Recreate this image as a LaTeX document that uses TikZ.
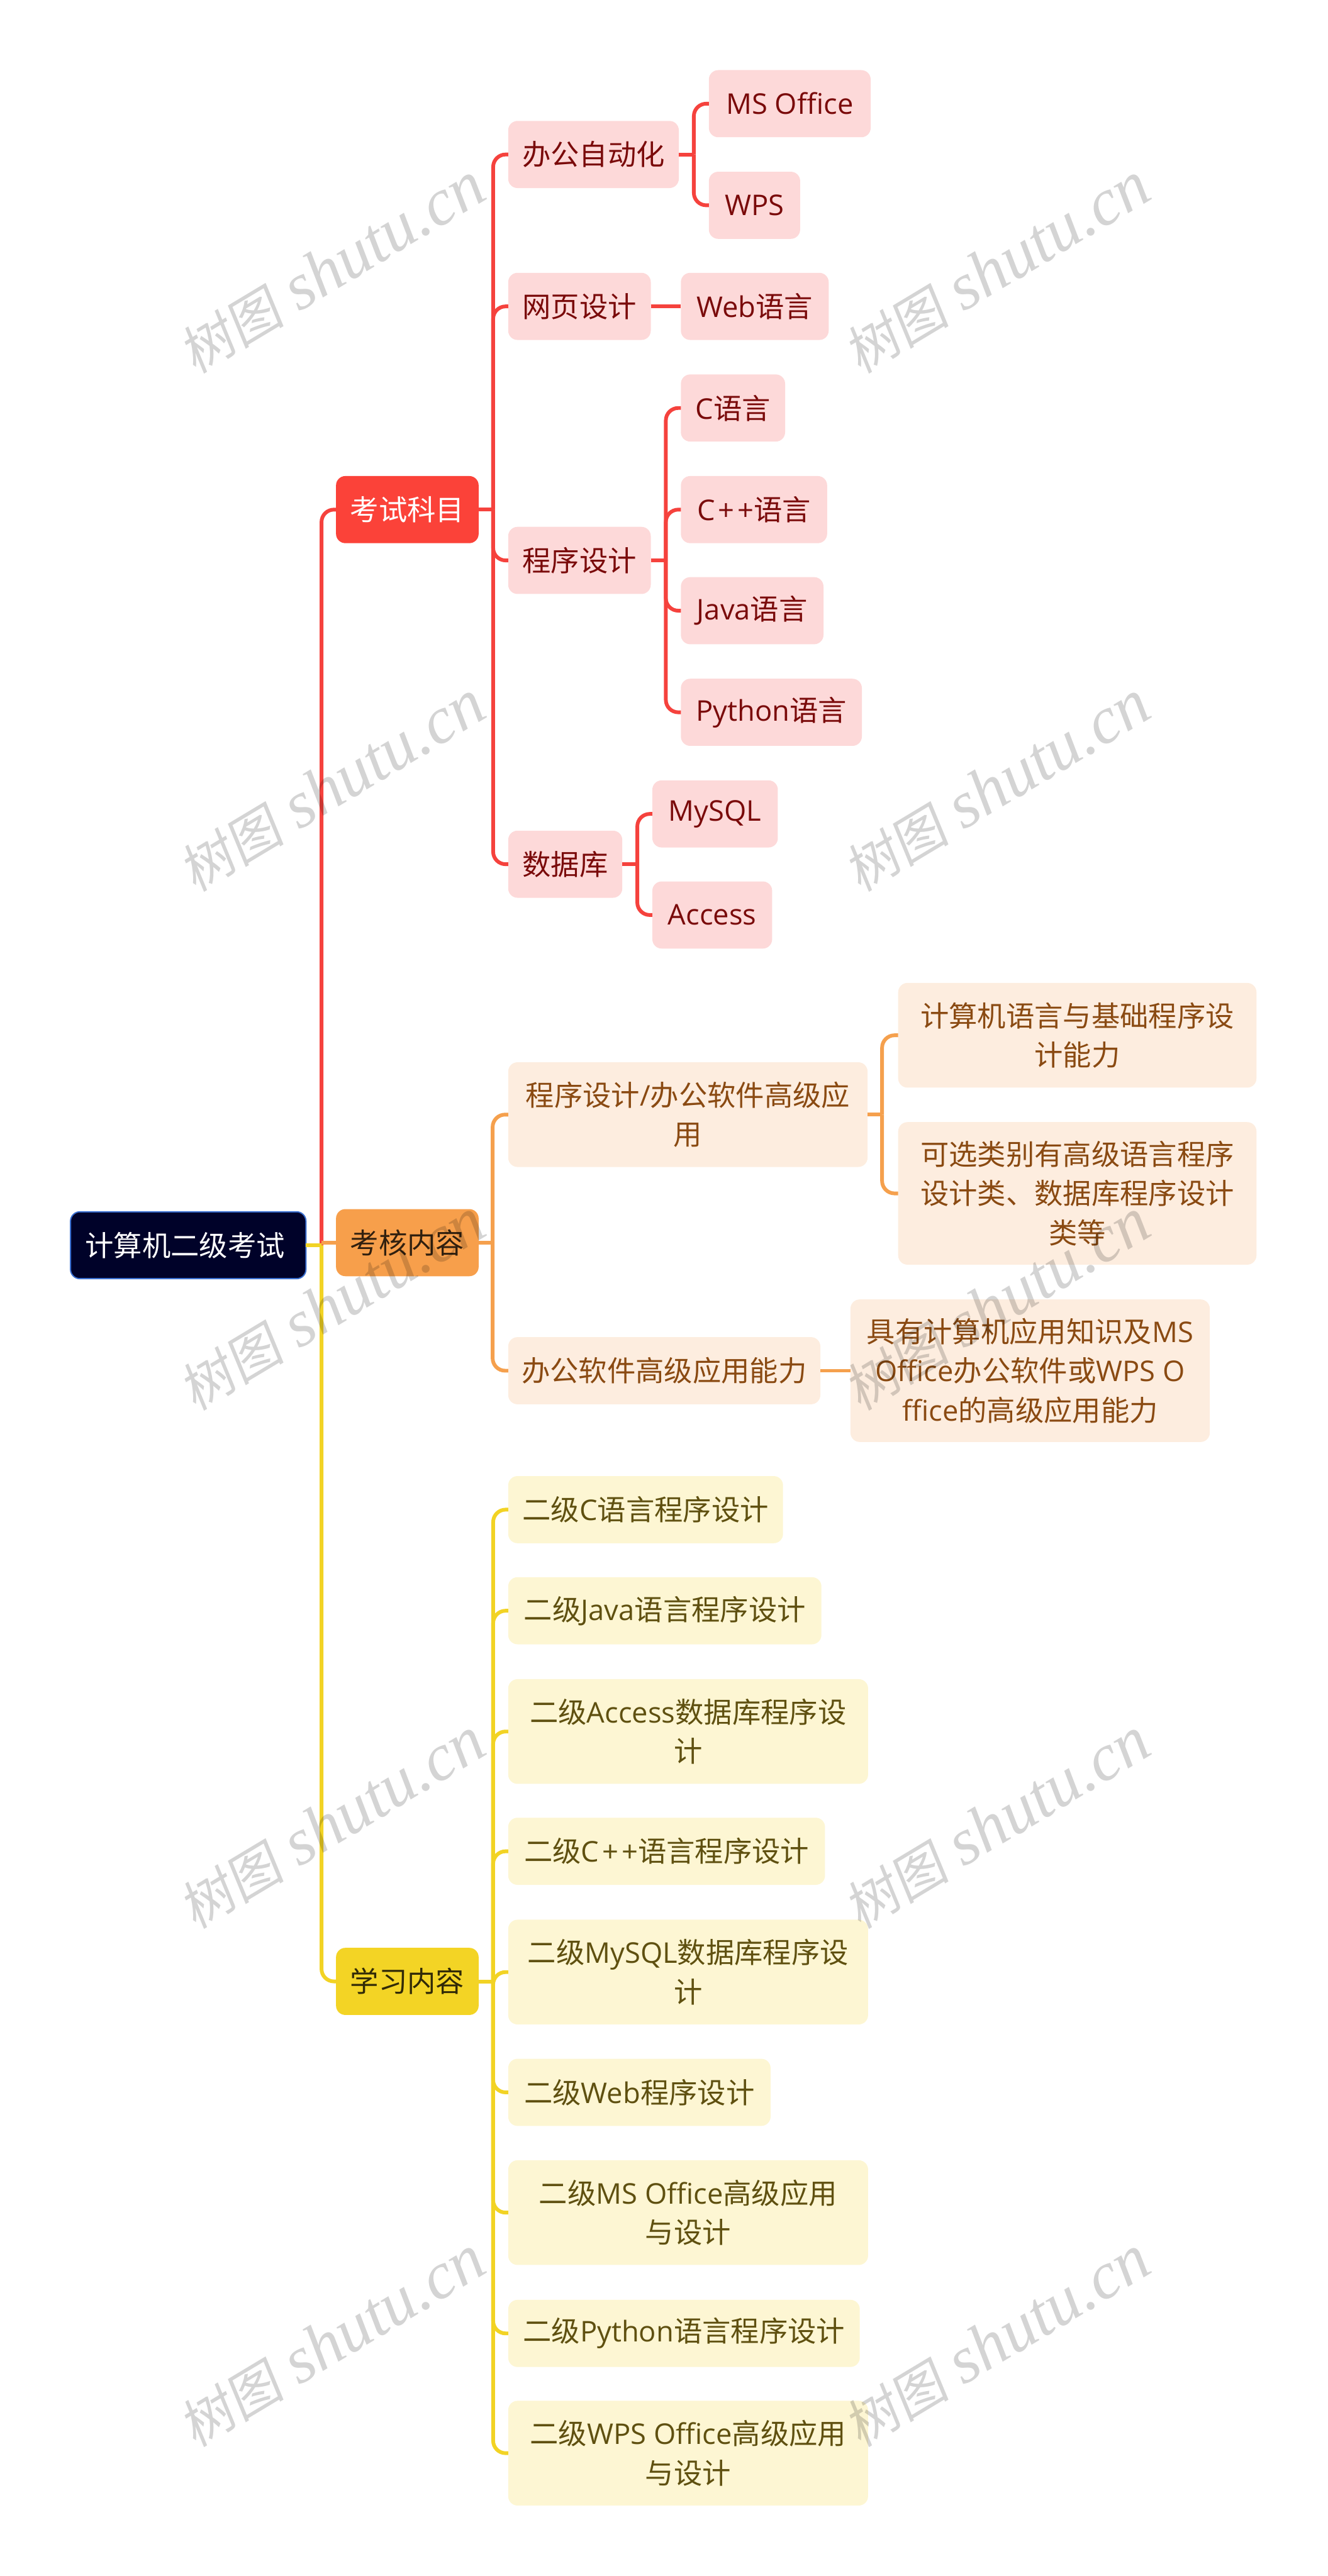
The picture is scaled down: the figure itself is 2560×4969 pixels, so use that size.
\documentclass[tikz,border=0pt]{standalone}
\usepackage{fontspec}
\setmainfont{Noto Sans CJK SC}
\newfontfamily\latfont{Open Sans}
\newfontfamily\wmcjk[FakeSlant=0.15]{Noto Sans CJK SC}
\newfontfamily\wmlat{Liberation Serif}
\newcommand{\lat}[1]{{\latfont #1}}
\definecolor{rootfill}{HTML}{000229}
\definecolor{rootedge}{HTML}{3A6FD0}
\definecolor{redmain}{HTML}{FB4239}
\definecolor{redline}{HTML}{F5423D}
\definecolor{redpale}{HTML}{FDD9D9}
\definecolor{redtext}{HTML}{7A0A0A}
\definecolor{orangemain}{HTML}{F79F4B}
\definecolor{orangeline}{HTML}{F5A04D}
\definecolor{orangepale}{HTML}{FDEDDF}
\definecolor{orangetext}{HTML}{8A4A12}
\definecolor{yellowmain}{HTML}{F3D425}
\definecolor{yellowline}{HTML}{F2D324}
\definecolor{yellowpale}{HTML}{FDF6D3}
\definecolor{yellowtext}{HTML}{5F5010}
\tikzset{
  box/.style={rectangle,rounded corners=4.5pt,inner sep=0pt,outer sep=0pt,anchor=west,align=center,
    font=\fontsize{13.75}{19}\selectfont},
  wd/.style={minimum width=#1*0.25pt},
  ln1/.style={minimum height=129.5*0.25pt},
  ln2/.style={minimum height=202*0.25pt},
  ln3/.style={minimum height=275*0.25pt},
  redsub/.style={box,ln1,fill=redpale,text=redtext},
  orangesub/.style={box,fill=orangepale,text=orangetext},
  yellowsub/.style={box,fill=yellowpale,text=yellowtext},
  redwire/.style={draw=redline,line width=1.8pt,rounded corners=6pt},
  orangewire/.style={draw=orangeline,line width=1.8pt,rounded corners=6pt},
  yellowwire/.style={draw=yellowline,line width=1.8pt,rounded corners=6pt},
  wmark/.style={rotate=31,text=black,text opacity=0.17,inner sep=0pt}
}
\newcommand{\wmtext}{{\fontsize{25.5}{30}\selectfont\wmcjk 树图} \hspace{5pt}{\fontsize{32}{30}\selectfont\wmlat\itshape shutu.cn}}
\begin{document}
\begin{tikzpicture}[x=0.25pt,y=-0.25pt]
  \useasboundingbox (0,0) rectangle (2560,4969);
  % root and main branches
  \node[box,wd=454,minimum height=129*0.25pt,fill=rootfill,draw=rootedge,line width=0.6pt,text=white] (root) at (136,2402) {计算机二级考试\hspace{3pt}};
  \node[box,ln1,wd=275,fill=redmain,text=white] (exam) at (648,983) {考试科目};
  \node[box,ln1,wd=275,fill=orangemain,text=black!80!orangemain] (check) at (648,2397) {考核内容};
  \node[box,ln1,wd=275,fill=yellowmain,text=black!80!yellowmain] (learn) at (648,3822) {学习内容};
  \coordinate (redjoin) at (620,2402);
  \coordinate (orangejoin) at (620,2397);

  % exam subjects
  \node[redsub,wd=329] (office) at (980,298) {办公自动化};
  \node[redsub,wd=312] (msoffice) at (1367,200) {\lat{MS Office}};
  \node[redsub,wd=176] (wps) at (1367,396) {\lat{WPS}};
  \node[redsub,wd=275] (webdesign) at (980,591) {网页设计};
  \node[redsub,wd=285] (weblang) at (1313,591) {\lat{Web}语言};
  \node[redsub,wd=275] (progdesign) at (980,1081) {程序设计};
  \node[redsub,wd=201] (clang) at (1313,787) {\lat{C}语言};
  \node[redsub,wd=282] (cpplang) at (1313,983) {\lat{C\kern1.5pt+\kern1.5pt+}语言};
  \node[redsub,wd=275] (javalang) at (1313,1178) {\lat{Java}语言};
  \node[redsub,wd=349] (pylang) at (1313,1374) {\lat{Python}语言};
  \node[redsub,wd=220] (dbase) at (980,1667) {数据库};
  \node[redsub,wd=242] (mysql) at (1258,1570) {\lat{MySQL}};
  \node[redsub,wd=231] (access) at (1258,1765) {\lat{Access}};

  % check contents
  \node[orangesub,ln2,wd=693] (progsoft) at (980,2150) {程序设计\lat{/}办公软件高级应\\用};
  \node[orangesub,ln2,wd=691] (basic) at (1732,1997) {计算机语言与基础程序设\\计能力};
  \node[orangesub,ln3,wd=691] (choice) at (1732,2302) {可选类别有高级语言程序\\设计类、数据库程序设计\\类等};
  \node[orangesub,ln1,wd=602] (softskill) at (980,2644) {办公软件高级应用能力};
  \node[orangesub,ln3,wd=693] (knowledge) at (1640,2644) {具有计算机应用知识及\lat{MS}\\\lat{Office}办公软件或\lat{WPS O}\\\lat{ffice}的高级应用能力};

  % learning contents
  \node[yellowsub,ln1,wd=530] (lc) at (980,2912) {二级\lat{C}语言程序设计};
  \node[yellowsub,ln1,wd=604] (ljava) at (980,3107) {二级\lat{Java}语言程序设计};
  \node[yellowsub,ln2,wd=694] (laccess) at (980,3340) {二级\lat{Access}数据库程序设\\计};
  \node[yellowsub,ln1,wd=611] (lcpp) at (980,3571) {二级\lat{C\kern1.5pt+\kern1.5pt+}语言程序设计};
  \node[yellowsub,ln2,wd=694] (lmysql) at (980,3804) {二级\lat{MySQL}数据库程序设\\计};
  \node[yellowsub,ln1,wd=506] (lweb) at (980,4036) {二级\lat{Web}程序设计};
  \node[yellowsub,ln2,wd=694] (lms) at (980,4268) {二级\lat{MS Office}高级应用\\与设计};
  \node[yellowsub,ln1,wd=678] (lpy) at (980,4501) {二级\lat{Python}语言程序设计};
  \node[yellowsub,ln2,wd=694] (lwps) at (980,4732) {二级\lat{WPS Office}高级应用\\与设计};

  % root--exam--check--learn
  \draw[redwire] (redjoin) |- (exam.west);
  \draw[orangewire] (orangejoin) -- (check.west);
  \draw[yellowwire] (redjoin) |- (learn.west);
  \draw[yellowwire] (root.east) -- (redjoin);

  % exam--office,webdesign,progdesign,dbase
  \coordinate (examjoin) at (951,983);
  \draw[redwire] (exam.east) -- (examjoin);
  \draw[redwire] (examjoin) |- (office.west);
  \draw[redwire] (examjoin) |- (webdesign.west);
  \draw[redwire] (examjoin) |- (progdesign.west);
  \draw[redwire] (examjoin) |- (dbase.west);
  % office--msoffice,wps
  \coordinate (officejoin) at (1338,298);
  \draw[redwire] (office.east) -- (officejoin);
  \draw[redwire] (officejoin) |- (msoffice.west);
  \draw[redwire] (officejoin) |- (wps.west);
  % webdesign--weblang
  \draw[redwire] (webdesign.east) -- (weblang.west);
  % progdesign--clang,cpplang,javalang,pylang
  \coordinate (progjoin) at (1284,1081);
  \draw[redwire] (progdesign.east) -- (progjoin);
  \draw[redwire] (progjoin) |- (clang.west);
  \draw[redwire] (progjoin) |- (cpplang.west);
  \draw[redwire] (progjoin) |- (javalang.west);
  \draw[redwire] (progjoin) |- (pylang.west);
  % dbase--mysql,access
  \coordinate (dbjoin) at (1229,1667);
  \draw[redwire] (dbase.east) -- (dbjoin);
  \draw[redwire] (dbjoin) |- (mysql.west);
  \draw[redwire] (dbjoin) |- (access.west);

  % check--progsoft,softskill
  \coordinate (checkjoin) at (950,2397);
  \draw[orangewire] (check.east) -- (checkjoin);
  \draw[orangewire] (checkjoin) |- (progsoft.west);
  \draw[orangewire] (checkjoin) |- (softskill.west);
  % progsoft--basic,choice
  \coordinate (softjoin) at (1701,2150);
  \draw[orangewire] (progsoft.east) -- (softjoin);
  \draw[orangewire] (softjoin) |- (basic.west);
  \draw[orangewire] (softjoin) |- (choice.west);
  % softskill--knowledge
  \draw[orangewire] (softskill.east) -- (knowledge.west);

  % learn--lc ... lwps
  \coordinate (learnjoin) at (951,3822);
  \draw[yellowwire] (learn.east) -- (learnjoin);
  \draw[yellowwire] (learnjoin) |- (lc.west);
  \draw[yellowwire] (learnjoin) |- (ljava.west);
  \draw[yellowwire] (learnjoin) |- (laccess.west);
  \draw[yellowwire] (learnjoin) |- (lcpp.west);
  \draw[yellowwire] (learnjoin) |- (lmysql.west);
  \draw[yellowwire] (learnjoin) |- (lweb.west);
  \draw[yellowwire] (learnjoin) |- (lms.west);
  \draw[yellowwire] (learnjoin) |- (lpy.west);
  \draw[yellowwire] (learnjoin) |- (lwps.west);

  % watermarks
  \node[wmark] (wma) at (640,517) {\wmtext};
  \node[wmark] (wmb) at (1922,517) {\wmtext};
  \node[wmark] (wmc) at (640,1517) {\wmtext};
  \node[wmark] (wmd) at (1922,1517) {\wmtext};
  \node[wmark] (wme) at (640,2517) {\wmtext};
  \node[wmark] (wmf) at (1922,2517) {\wmtext};
  \node[wmark] (wmg) at (640,3517) {\wmtext};
  \node[wmark] (wmh) at (1922,3517) {\wmtext};
  \node[wmark] (wmi) at (640,4517) {\wmtext};
  \node[wmark] (wmj) at (1922,4517) {\wmtext};
\end{tikzpicture}
\end{document}
